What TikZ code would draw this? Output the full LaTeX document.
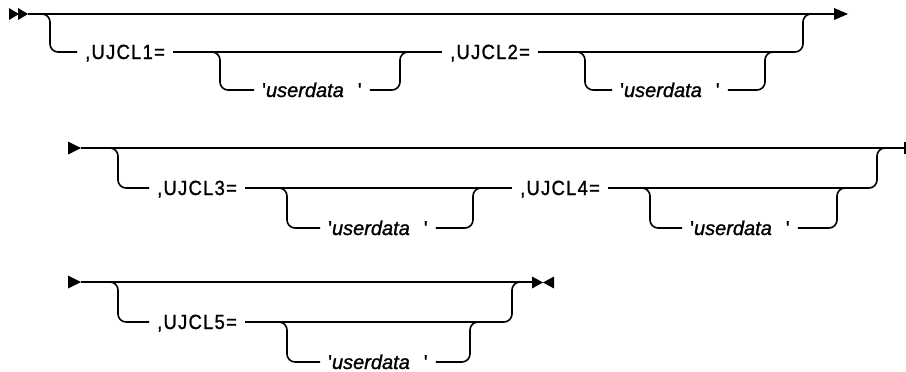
\documentclass[tikz,border=0pt]{standalone}
\usepackage{fontspec}
\setmainfont{Liberation Sans}[FakeBold=1.2]
\newfontfamily\kwfont{Liberation Sans}[LetterSpace=6,FakeStretch=0.9,FakeBold=1.2]
\usetikzlibrary{calc}
\tikzset{
  rr/.style={line width=1.6pt, rounded corners=8pt},
  kw/.style={inner xsep=8pt, inner ysep=0pt, text height=14pt, text depth=0pt,
             anchor=west, font=\kwfont\fontsize{20.5}{20.5}\selectfont},
  var/.style={kw, font=\fontsize{20}{20}\selectfont},
  tipfill/.style={fill=black}
}
\newcommand{\ud}{\textquotesingle\textit{userdata}\hspace{14pt}\textquotesingle}
\begin{document}
\begin{tikzpicture}[x=1pt,y=-1pt]
\useasboundingbox (0,0) rectangle (906,372);
% ---------- Row 1 ----------
\coordinate (s1) at (28,14);
\coordinate (e1) at (836,14);
\fill[tipfill] (9,8) -- (19,14) -- (9,20) -- cycle;
\fill[tipfill] (18,8) -- (28,14) -- (18,20) -- cycle;
\fill[tipfill] (834,8) -- (848,14) -- (834,20) -- cycle;
\draw[rr] (s1) -- (e1);
\node[kw] (k1) at (77,52) {,UJCL1=};
\node[var] (v1) at (254,90) {\ud};
\node[kw] (k2) at (442,52) {,UJCL2=};
\node[var] (v2) at (612,90) {\ud};
\coordinate (a1) at (50,52);
\coordinate (b1) at (220,90);
\coordinate (j1) at (400,52);
\coordinate (b2) at (585,90);
\coordinate (j2) at (765,52);
\coordinate (o1) at (803,14);
\draw[rr] (s1) -| (a1) -- (k1.west);
\draw[rr] (k1.east) -- (k2.west);
\draw[rr] (k1.east) -| (b1) -- (v1.west);
\draw[rr] (v1.east) -| (j1) -- ++(12,0);
\draw[rr] (k2.east) -| (o1) -- (e1);
\draw[rr] (k2.east) -| (b2) -- (v2.west);
\draw[rr] (v2.east) -| (j2) -- ++(12,0);
% ---------- Row 2 ----------
\coordinate (s2) at (81,148);
\coordinate (e2) at (905,148);
\fill[tipfill] (68,141.5) -- (81,148) -- (68,154.5) -- cycle;
\draw[rr] (s2) -- (e2);
\draw[line width=1.5pt] (e2) ++(0,-6) -- ++(0,12);
\node[kw] (k3) at (149,188) {,UJCL3=};
\node[var] (v3) at (320,228) {\ud};
\node[kw] (k4) at (512,188) {,UJCL4=};
\node[var] (v4) at (682,228) {\ud};
\coordinate (a2) at (118,188);
\coordinate (b3) at (287,228);
\coordinate (j3) at (473,188);
\coordinate (b4) at (650,228);
\coordinate (j4) at (837,188);
\coordinate (o2) at (877,148);
\draw[rr] (s2) -| (a2) -- (k3.west);
\draw[rr] (k3.east) -- (k4.west);
\draw[rr] (k3.east) -| (b3) -- (v3.west);
\draw[rr] (v3.east) -| (j3) -- ++(12,0);
\draw[rr] (k4.east) -| (o2) -- (e2);
\draw[rr] (k4.east) -| (b4) -- (v4.west);
\draw[rr] (v4.east) -| (j4) -- ++(12,0);
% ---------- Row 3 ----------
\coordinate (s3) at (81,282);
\coordinate (e3) at (532,282);
\fill[tipfill] (68,275.5) -- (81,282) -- (68,288.5) -- cycle;
\draw[rr] (s3) -- (e3);
\fill[tipfill] (532,276.5) -- (543,282.5) -- (532,288.5) -- cycle;
\fill[tipfill] (554,276.5) -- (543,282.5) -- (554,288.5) -- cycle;
\node[kw] (k5) at (149,322) {,UJCL5=};
\node[var] (v5) at (320,362) {\ud};
\coordinate (a3) at (118,322);
\coordinate (b5) at (287,362);
\coordinate (j5) at (470,322);
\coordinate (o3) at (512,282);
\draw[rr] (s3) -| (a3) -- (k5.west);
\draw[rr] (k5.east) -| (o3) -- (e3);
\draw[rr] (k5.east) -| (b5) -- (v5.west);
\draw[rr] (v5.east) -| (j5) -- ++(12,0);
\end{tikzpicture}
\end{document}
